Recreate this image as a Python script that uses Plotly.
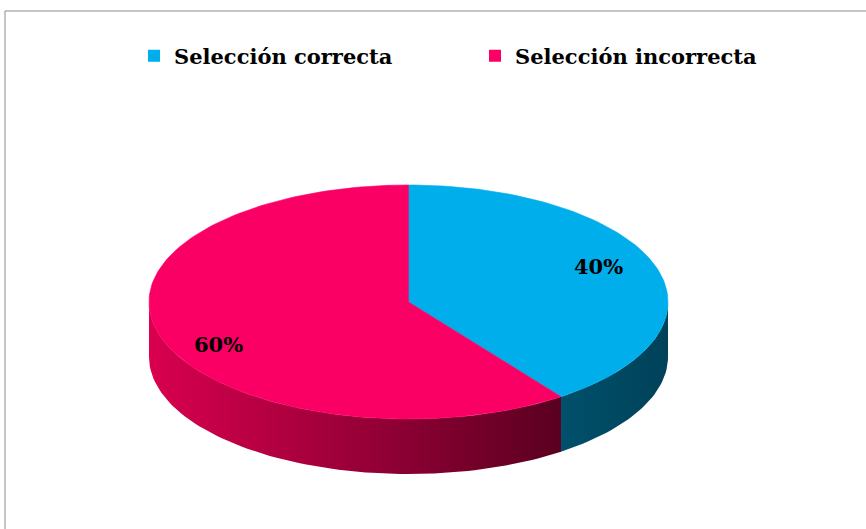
import numpy as np
import plotly.graph_objects as go

# ---- data ----
categories = ["Selección correcta", "Selección incorrecta"]
values = [40, 60]
top_colors = ["#00AEEB", "#FB0064"]
side_scales = [
    [[0, "#00506B"], [1, "#004259"]],
    [[0, "#D9004F"], [1, "#5A0020"]],
]

# ---- 3D pie geometry (unit radius) ----
tilt = 117 / 259.5
depth = 55 / 259.5
label_r = 0.77
label_yshift = [8, -15]

total = sum(values)
fracs = [v / total for v in values]
starts = np.cumsum([0] + fracs[:-1]) * 2 * np.pi
ends = np.cumsum(fracs) * 2 * np.pi


def arc(t1, t2, n=240):
    t = np.linspace(t1, t2, max(int(n * (t2 - t1) / (2 * np.pi)), 2))
    return np.sin(t), tilt * np.cos(t)


fig = go.Figure()

# side faces (front half only)
for i, (t1, t2) in enumerate(zip(starts, ends)):
    lo, hi = max(t1, np.pi / 2), min(t2, 3 * np.pi / 2)
    if lo < hi:
        x, y = arc(lo, hi)
        xs = np.concatenate([x, x[::-1], x[:1]])
        ys = np.concatenate([y, y[::-1] - depth, y[:1]])
        fig.add_trace(go.Scatter(
            x=xs, y=ys, mode="lines", fill="toself",
            line=dict(width=0), fillcolor=side_scales[i][0][1],
            fillgradient=dict(type="horizontal", colorscale=side_scales[i]),
            showlegend=False, hoverinfo="skip"))

# top faces
for i, (t1, t2) in enumerate(zip(starts, ends)):
    x, y = arc(t1, t2)
    xs = np.concatenate([[0], x, [0]])
    ys = np.concatenate([[0], y, [0]])
    fig.add_trace(go.Scatter(
        x=xs, y=ys, mode="lines", fill="toself",
        line=dict(width=0.6, color=top_colors[i]), fillcolor=top_colors[i],
        name=categories[i], showlegend=False, hoverinfo="skip"))

# legend entries
for i, cat in enumerate(categories):
    fig.add_trace(go.Scatter(
        x=[None], y=[None], mode="markers", name=cat,
        marker=dict(symbol="square", size=12, color=top_colors[i])))

# labels
for i, (t1, t2) in enumerate(zip(starts, ends)):
    m = (t1 + t2) / 2
    fig.add_annotation(
        x=label_r * np.sin(m), y=label_r * tilt * np.cos(m),
        text=f"{values[i]}%", showarrow=False, yshift=label_yshift[i],
        font=dict(family="DejaVu Serif", size=21, color="black", weight="bold"))

# frame
fig.add_shape(type="rect", xref="paper", yref="paper",
              x0=5 / 866, x1=1.05, y0=-0.05, y1=1 - 11 / 529,
              line=dict(color="#8C8C8C", width=1), layer="below")

sx = 259.5
fig.update_layout(
    width=866, height=529,
    margin=dict(l=0, r=0, t=0, b=0),
    paper_bgcolor="white", plot_bgcolor="white",
    xaxis=dict(range=[-408.5 / sx, (866 - 408.5) / sx], visible=False, fixedrange=True),
    yaxis=dict(range=[(302 - 529) / sx, 302 / sx], visible=False, fixedrange=True),
    showlegend=True,
    legend=dict(orientation="h", x=134 / 866, y=1 - 56 / 529, xanchor="left", yanchor="middle",
                font=dict(family="DejaVu Serif", size=21, color="black", weight="bold"),
                entrywidth=296, entrywidthmode="pixels", bgcolor="rgba(0,0,0,0)",
                itemclick=False, itemdoubleclick=False),
)

fig.write_html("out.html", config={"displayModeBar": False},
               post_script="document.body.style.margin='0';")
